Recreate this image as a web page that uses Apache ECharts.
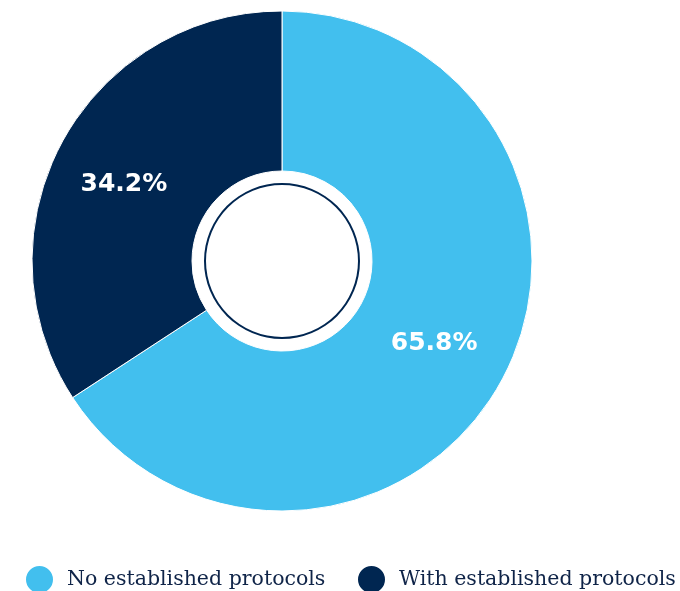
<!DOCTYPE html>
<html>
<head>
<meta charset="utf-8">
<script src="https://cdn.jsdelivr.net/npm/echarts@6/dist/echarts.min.js"></script>
<style>
  html, body { margin: 0; padding: 0; background: #ffffff; }
  #chart { width: 680px; height: 591px; }
</style>
</head>
<body>
<div id="chart"></div>
<script>
// Share of organisations by protocol status (percent)
const categories = ['No established protocols', 'With established protocols'];
const shares = [65.8, 34.2];
const colors = ['#42BFEE', '#002651'];

const chart = echarts.init(document.getElementById('chart'), null, { renderer: 'canvas' });

const center = [282, 261];
const legendLeft = [19, 351];

// one legend block per category so each sits at its own x position
const legends = categories.map((name, i) => ({
  data: [name],
  left: legendLeft[i],
  top: 559,
  icon: 'circle',
  itemWidth: 29,
  itemHeight: 29,
  textStyle: {
    fontFamily: 'DejaVu Serif',
    fontSize: 20.5,
    color: '#0f2448',
    padding: [0, 0, 0, 8]
  }
}));

chart.setOption({
  animation: false,
  color: colors,
  legend: legends,
  series: [
    {
      type: 'pie',
      center: center,
      radius: [90, 250],
      startAngle: 90,
      clockwise: true,
      silent: true,
      itemStyle: { borderColor: '#ffffff', borderWidth: 1 },
      label: {
        show: true,
        position: 'inside',
        formatter: p => p.value.toFixed(1) + '%',
        color: '#ffffff',
        fontFamily: 'DejaVu Sans',
        fontWeight: 'bold',
        fontSize: 25
      },
      labelLine: { show: false },
      data: categories.map((name, i) => ({
        name: name,
        value: shares[i],
        label: i === 1 ? { offset: [-6, 6] } : {}
      }))
    },
    {
      // thin inner ring
      type: 'pie',
      center: center,
      radius: [76, 78],
      silent: true,
      label: { show: false },
      labelLine: { show: false },
      itemStyle: { color: '#002651' },
      data: [{ name: 'ring', value: 1 }]
    }
  ]
});
</script>
</body>
</html>
